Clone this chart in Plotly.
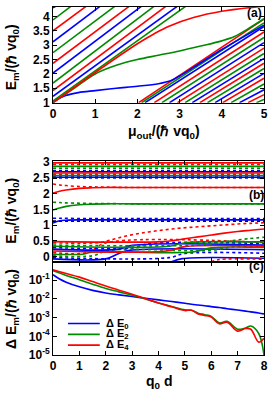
import plotly.graph_objects as go

BLUE = "#0000ff"
GREEN = "#008a00"
RED = "#ff0000"
COL = {"b": BLUE, "g": GREEN, "r": RED}
FONT = "Liberation Sans, Arial, sans-serif"

# ---------------- panel (a) data ----------------
a_ul_y0 = [4.30, 3.88, 3.50, 3.12, 2.74, 2.37, 2.03, 1.68, 1.42, 1.22, 1.06]
a_ul_xtop = [0.07, 0.43, 0.79, 1.12, 1.47, 1.81, 2.10, 2.40, 2.68, 2.95, 3.15]
a_ul_col = ["b", "g", "r", "b", "g", "r", "b", "g", "r", "b", "g"]
a_top = 4.36
a_lr_x0 = [2.03, 2.10, 2.18, 2.40, 2.58, 2.76, 2.95, 3.13, 3.30, 3.48, 3.66,
           3.84, 4.02, 4.22, 4.42, 4.62, 4.82]
a_lr_y5 = [3.91, 3.78, 3.65, 3.46, 3.27, 3.09, 2.90, 2.71, 2.54, 2.37, 2.19,
           2.02, 1.85, 1.65, 1.45, 1.28, 1.11]
a_lr_col = ["r", "g", "b"] * 6
a_blue_x = [0, 0.15, 0.3, 0.6, 1.0, 1.5, 2.0, 2.5, 2.8, 3.0, 3.3, 4.0, 5.0]
a_blue_y = [1.0, 1.15, 1.25, 1.35, 1.42, 1.50, 1.57, 1.66, 1.77, 1.93, 2.20, 2.85, 3.70]
a_green_x = [0, 0.5, 1.0, 1.5, 2.0, 2.5, 3.0, 3.5, 4.0, 4.3, 4.6, 5.0]
a_green_y = [1.0, 1.5, 2.0, 2.3, 2.5, 2.65, 2.8, 2.97, 3.15, 3.3, 3.55, 3.92]
a_red_x = [0, 1.0, 2.0, 2.4, 2.75, 3.35, 4.0, 5.0]
a_red_y = [1.0, 2.05, 3.05, 3.4, 3.66, 3.97, 4.18, 4.36]

# ---------------- panel (b) data ----------------
b_flat_x = [0, 8]
b_top_levels = [2.98, 2.93, 2.87, 2.81, 2.74, 2.70, 2.66, 2.62, 2.58, 2.555, 2.525, 2.50]
b_top_col = ["r", "r", "g", "g", "b", "b", "r", "r", "g", "g", "b", "b"]
b_top_dash = ["solid", "dot", "solid", "dot", "dot", "solid", "solid", "dot", "solid", "dot", "solid", "dot"]
b_ref_level = 1.13

b_mid_x = [0, 0.25, 0.5, 1.0, 1.5, 2.0, 3.0, 8.0]
b_red_sol_mid = [2.02, 2.08, 2.12, 2.17, 2.19, 2.20, 2.20, 2.20]
b_red_dot_mid = [2.31, 2.28, 2.26, 2.23, 2.22, 2.21, 2.20, 2.20]
b_grn_sol_mid = [1.48, 1.55, 1.60, 1.65, 1.67, 1.68, 1.68, 1.68]
b_grn_dot_mid = [1.73, 1.72, 1.71, 1.70, 1.69, 1.69, 1.68, 1.68]
b_blu_sol_mid = [1.07, 1.14, 1.16, 1.17, 1.17, 1.17, 1.17, 1.17]
b_blu_dot_mid = [1.22, 1.22, 1.22, 1.21, 1.21, 1.21, 1.21, 1.21]

b_rs1_x = [0, 4.2, 4.6, 5.0, 5.5, 6.0, 6.5, 7.0, 7.5, 8.0]
b_rs1_y = [0.48, 0.48, 0.52, 0.57, 0.63, 0.69, 0.75, 0.80, 0.84, 0.88]
b_rd1_x = [0, 1.8, 2.1, 2.5, 3.0, 3.5, 4.0, 4.5, 5.0, 5.5, 6.0, 6.5, 7.0, 7.5, 8.0]
b_rd1_y = [0.44, 0.45, 0.51, 0.60, 0.70, 0.77, 0.83, 0.88, 0.92, 0.95, 0.98, 1.01, 1.04, 1.06, 1.08]
b_gs1_x = [0, 4.4, 4.8, 5.2, 8.0]
b_gs1_y = [0.33, 0.33, 0.41, 0.46, 0.47]
b_gd1_x = [0, 5.6, 6.2, 6.8, 7.4, 8.0]
b_gd1_y = [0.37, 0.37, 0.44, 0.51, 0.57, 0.62]
b_bd1_x = [0, 3.1, 3.6, 8.0]
b_bd1_y = [0.29, 0.29, 0.41, 0.42]
b_bs1_x = [0, 2.5, 3.0, 8.0]
b_bs1_y = [0.24, 0.24, 0.36, 0.37]
b_rs2_x = [0, 4.3, 5.0, 8.0]
b_rs2_y = [0.18, 0.18, 0.32, 0.33]
b_rd2_x = [0, 1.3, 2.0, 8.0]
b_rd2_y = [0.13, 0.13, 0.44, 0.45]
b_gs2_x = [0, 1.1, 1.5, 5.3, 6.0, 8.0]
b_gs2_y = [0.08, 0.08, 0.15, 0.15, 0.28, 0.29]
b_gd2_x = [0, 1.5, 2.1, 6.0, 6.8, 8.0]
b_gd2_y = [0.03, 0.03, 0.20, 0.20, 0.31, 0.32]
b_bd2_x = [0, 4.4, 5.0, 8.0]
b_bd2_y = [-0.03, -0.03, 0.10, 0.11]
b_bs2_x = [0, 2.0, 2.5, 2.9, 8.0]
b_bs2_y = [-0.07, -0.07, 0.10, 0.20, 0.22]
b_bs3_x = [4.5, 4.9, 8.0]
b_bs3_y = [-0.16, -0.06, -0.05]
b_rd3_x = [6.0, 6.3, 8.0]
b_rd3_y = [-0.16, -0.09, -0.08]

# ---------------- panel (c) data ----------------
c_x = [0, 0.25, 0.5, 1.0, 1.5, 2.0, 2.5, 3.0, 3.5, 4.0, 4.5, 5.0, 5.25, 5.5, 5.75,
       6.0, 6.3, 6.6, 7.0, 7.3, 7.5, 7.8, 8.0]
c_dE0_log = [-0.70, -0.93, -1.10, -1.35, -1.54, -1.68, -1.78, -1.87, -1.96, -2.05,
             -2.14, -2.23, -2.28, -2.32, -2.36, -2.41, -2.46, -2.52, -2.59, -2.65,
             -2.69, -2.75, -2.80]
c_dE2_log = [-0.48, -0.61, -0.74, -0.97, -1.21, -1.44, -1.62, -1.80, -2.00, -2.22,
             -2.40, -2.58, -2.60, -2.76, -2.84, -2.93, -3.28, -3.20, -3.62, -3.55,
             -3.45, -3.85, -5.0]
c_dE4_log = [-0.44, -0.54, -0.64, -0.83, -1.07, -1.31, -1.53, -1.75, -1.98, -2.22,
             -2.42, -2.62, -2.60, -2.80, -2.88, -2.97, -3.33, -3.25, -3.72, -3.58,
             -3.62, -4.31, -4.10]
c_legend = ["Δ E<sub>0</sub>", "Δ E<sub>2</sub>", "Δ E<sub>4</sub>"]
c_tickvals = [1e-1, 1e-2, 1e-3, 1e-4, 1e-5]
c_ticktext = ["10<sup>-1</sup>", "10<sup>-2</sup>", "10<sup>-3</sup>", "10<sup>-4</sup>", "10<sup>-5</sup>"]

LW = 1.6
fig = go.Figure()


def add(x, y, color, dash="solid", xa="x", ya="y", shape="linear", width=LW):
    fig.add_trace(go.Scatter(x=x, y=y, mode="lines", xaxis=xa, yaxis=ya,
                             line=dict(color=color, dash=dash, width=width, shape=shape),
                             showlegend=False, hoverinfo="skip"))


# panel (a)
for y0, xt, c in zip(a_ul_y0, a_ul_xtop, a_ul_col):
    add([0, xt], [y0, a_top], COL[c])
for x0, y5, c in zip(a_lr_x0, a_lr_y5, a_lr_col):
    add([x0, 5], [1, y5], COL[c])
add(a_blue_x, a_blue_y, BLUE, shape="spline")
add(a_green_x, a_green_y, GREEN, shape="spline")
add(a_red_x, a_red_y, RED, shape="spline")

# panel (b)
for lv, c, d in zip(b_top_levels, b_top_col, b_top_dash):
    add(b_flat_x, [lv, lv], COL[c], d, "x2", "y2")
add(b_flat_x, [b_ref_level, b_ref_level], "black", "dot", "x2", "y2", width=1.8)
add(b_mid_x, b_red_dot_mid, RED, "dot", "x2", "y2", "spline")
add(b_mid_x, b_red_sol_mid, RED, "solid", "x2", "y2", "spline")
add(b_mid_x, b_grn_dot_mid, GREEN, "dot", "x2", "y2", "spline")
add(b_mid_x, b_grn_sol_mid, GREEN, "solid", "x2", "y2", "spline")
add(b_mid_x, b_blu_dot_mid, BLUE, "dot", "x2", "y2", "spline")
add(b_mid_x, b_blu_sol_mid, BLUE, "solid", "x2", "y2", "spline")
lower = [
    (b_bs3_x, b_bs3_y, BLUE, "solid"), (b_rd3_x, b_rd3_y, RED, "dot"),
    (b_bs2_x, b_bs2_y, BLUE, "solid"), (b_bd2_x, b_bd2_y, BLUE, "dot"),
    (b_gd2_x, b_gd2_y, GREEN, "dot"), (b_gs2_x, b_gs2_y, GREEN, "solid"),
    (b_rd2_x, b_rd2_y, RED, "dot"), (b_rs2_x, b_rs2_y, RED, "solid"),
    (b_bs1_x, b_bs1_y, BLUE, "solid"), (b_bd1_x, b_bd1_y, BLUE, "dot"),
    (b_gd1_x, b_gd1_y, GREEN, "dot"), (b_gs1_x, b_gs1_y, GREEN, "solid"),
    (b_rd1_x, b_rd1_y, RED, "dot"), (b_rs1_x, b_rs1_y, RED, "solid"),
]
for x, y, c, d in lower:
    add(x, y, c, d, "x2", "y2", "spline")

# panel (c)
for ylog, c in zip([c_dE0_log, c_dE2_log, c_dE4_log], [BLUE, GREEN, RED]):
    add(c_x, [10 ** v for v in ylog], c, "solid", "x3", "y3", "spline")

# ---------------- layout ----------------
W, H = 269, 396
ML, MR, MT, MB = 53, 4, 1, 41
PW, PH = W - ML - MR, H - MT - MB


def px(X):
    return (X - ML) / PW


def py(Y):
    return (H - MB - Y) / PH


tickfont = dict(family=FONT, size=12, color="black", weight="bold")
base = dict(showline=True, linecolor="black", linewidth=1, mirror="allticks",
            ticks="inside", ticklen=4, tickcolor="black", tickwidth=1,
            showgrid=False, zeroline=False, tickfont=tickfont)

fig.update_layout(
    width=W, height=H, margin=dict(l=ML, r=MR, t=MT, b=MB),
    paper_bgcolor="white", plot_bgcolor="white",
    xaxis=dict(base, domain=[0, 1], range=[0, 5], tickvals=[0, 1, 2, 3, 4, 5], anchor="y"),
    yaxis=dict(base, domain=[py(98.3), 1], range=[1, 4.33],
               tickvals=[1, 1.5, 2, 2.5, 3, 3.5, 4], anchor="x"),
    xaxis2=dict(base, domain=[0, 1], range=[0, 8], tickvals=list(range(9)),
                showticklabels=False, anchor="y2"),
    yaxis2=dict(base, domain=[py(260), py(158)], range=[-0.156, 3.03],
                tickvals=[0, 0.5, 1, 1.5, 2, 2.5, 3], anchor="x2"),
    xaxis3=dict(base, domain=[0, 1], range=[0, 8], tickvals=list(range(9)), anchor="y3"),
    yaxis3=dict(base, domain=[0, py(260)], type="log", range=[-5, 0],
                tickvals=c_tickvals, ticktext=c_ticktext, anchor="x3"),
)

titlefont = dict(family=FONT, size=14, color="black", weight="bold")
ann = []
ann.append(dict(x=px(12), y=py(52), text="E<sub>m</sub>/(ℏ vq<sub>0</sub>)", textangle=-90))
ann.append(dict(x=px(12), y=py(208), text="E<sub>m</sub>/(ℏ vq<sub>0</sub>)", textangle=-90))
ann.append(dict(x=px(12), y=py(308), text="Δ E<sub>m</sub>/(ℏ vq<sub>0</sub>)", textangle=-90))
ann.append(dict(x=px(165), y=py(128), text="μ<sub>out</sub>/(ℏ vq<sub>0</sub>)"))
ann.append(dict(x=px(159.5), y=py(382), text="q<sub>0</sub> d"))
for a in ann:
    a.update(xref="paper", yref="paper", showarrow=False, font=titlefont,
             xanchor="center", yanchor="middle")
labfont = dict(family=FONT, size=12, color="black", weight="bold")
for txt, X, Y in [("(a)", 255.5, 7), ("(b)", 257, 192), ("(c)", 257, 264)]:
    ann.append(dict(x=px(X), y=py(Y), text=txt, xref="paper", yref="paper",
                    showarrow=False, font=labfont, xanchor="center", yanchor="middle"))

shapes = []
legfont = dict(family=FONT, size=11, color="black", weight="bold")
for txt, c, Y in zip(c_legend, [BLUE, GREEN, RED], [323, 334, 345]):
    shapes.append(dict(type="line", xref="paper", yref="paper", x0=px(68), x1=px(100),
                       y0=py(Y), y1=py(Y), line=dict(color=c, width=LW)))
    ann.append(dict(x=px(104), y=py(Y), text=txt, xref="paper", yref="paper",
                    showarrow=False, font=legfont, xanchor="left", yanchor="middle"))
fig.update_layout(annotations=ann, shapes=shapes)

fig.write_html(
    "out.html",
    config={"displayModeBar": False, "staticPlot": True},
    post_script="document.body.style.margin='0';document.body.style.padding='0';"
                "document.documentElement.style.overflow='hidden';",
)
